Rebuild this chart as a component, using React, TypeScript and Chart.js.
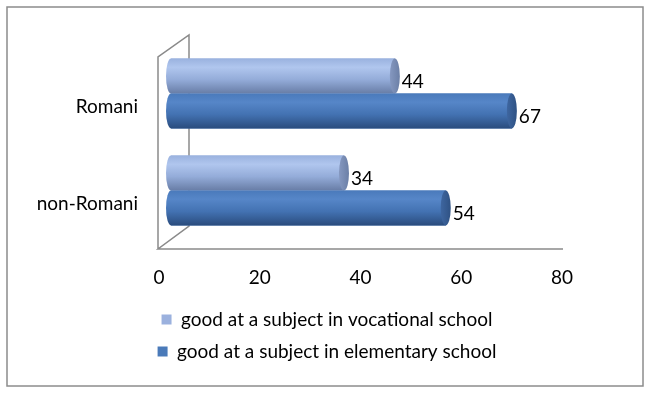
import React, { useEffect, useRef } from "react";
import { Chart, registerables } from "chart.js";

Chart.register(...registerables);

const categories = ["Romani", "non-Romani"];
const vocational = [44, 34];
const elementary = [67, 54];
const seriesLabels = [
  "good at a subject in vocational school",
  "good at a subject in elementary school",
];
const xTicks = [0, 20, 40, 60, 80];

const FONT = "Lato";
const FSIZE = 19;
const legendColors = ["#9bb1de", "#4a7ab9"];

const framePlugin = {
  id: "frame3d",
  beforeDraw(chart: any) {
    const { ctx } = chart;
    ctx.save();
    ctx.fillStyle = "#ffffff";
    ctx.fillRect(0, 0, chart.width, chart.height);
    ctx.strokeStyle = "#8c8c8c";
    ctx.lineWidth = 1.5;
    ctx.strokeRect(7, 7, 636, 379);
    ctx.restore();
  },
  beforeDatasetsDraw(chart: any) {
    const { ctx, chartArea } = chart;
    const x2 = chart.scales.x2;
    const { left, top, bottom } = chartArea;
    const fx = x2.getPixelForValue(0) - 1;
    const fTop = top + 12;
    const fBot = bottom + 10;
    const bx = left + 18;
    const bTop = top - 10;
    const bBot = bottom - 13;
    ctx.save();
    ctx.strokeStyle = "#8a8a8a";
    ctx.lineWidth = 1.5;
    ctx.beginPath();
    ctx.moveTo(fx, fBot);
    ctx.lineTo(fx, fTop);
    ctx.lineTo(bx, bTop);
    ctx.lineTo(bx, bBot);
    ctx.lineTo(fx, fBot);
    ctx.lineTo(x2.getPixelForValue(80) + 1, fBot);
    ctx.stroke();
    ctx.restore();
  },
};

const cylStyles = [
  {
    stops: [
      [0, "#9ab2df"],
      [0.25, "#b0c6ee"],
      [0.6, "#94acd9"],
      [1, "#687da6"],
    ],
    cap: ["#8598c0", "#6b7fa6"],
  },
  {
    stops: [
      [0, "#4a7abb"],
      [0.25, "#5686c8"],
      [0.6, "#4372b2"],
      [1, "#2a4c7d"],
    ],
    cap: ["#3e66a0", "#2f5284"],
  },
];

const cylinderPlugin = {
  id: "cylinders",
  afterDatasetsDraw(chart: any) {
    const { ctx } = chart;
    ctx.save();
    chart.data.datasets.forEach((ds: any, di: number) => {
      const meta = chart.getDatasetMeta(di);
      const st = cylStyles[di];
      meta.data.forEach((bar: any, i: number) => {
        const { x, y, base, height } = bar.getProps(["x", "y", "base", "height"], true);
        const h = height;
        const top = y - h / 2;
        const rx = 5;
        const g = ctx.createLinearGradient(0, top, 0, top + h);
        st.stops.forEach((s: any) => g.addColorStop(s[0], s[1]));
        ctx.fillStyle = g;
        ctx.beginPath();
        ctx.ellipse(base, y, rx, h / 2, 0, Math.PI / 2, (Math.PI * 3) / 2);
        ctx.lineTo(x, top);
        ctx.lineTo(x, top + h);
        ctx.closePath();
        ctx.fill();
        const cg = ctx.createLinearGradient(x - rx, 0, x + rx, 0);
        cg.addColorStop(0, st.cap[0]);
        cg.addColorStop(1, st.cap[1]);
        ctx.fillStyle = cg;
        ctx.beginPath();
        ctx.ellipse(x, y, rx, h / 2, 0, 0, Math.PI * 2);
        ctx.fill();
        ctx.fillStyle = "#000000";
        ctx.font = `${FSIZE}px ${FONT}`;
        ctx.textAlign = "left";
        ctx.textBaseline = "middle";
        ctx.fillText(String(ds.data[i]), x + rx + 2, y + 6);
      });
    });
    ctx.restore();
  },
};

export default function App() {
  const ref = useRef<HTMLCanvasElement | null>(null);
  useEffect(() => {
    if (!ref.current) return;
    const chart = new Chart(ref.current, {
      type: "bar",
      data: {
        labels: categories,
        datasets: [
          {
            label: seriesLabels[0],
            data: vocational,
            backgroundColor: legendColors[0],
            xAxisID: "x",
            yAxisID: "y",
            barPercentage: 1,
            categoryPercentage: 0.72,
          },
          {
            label: seriesLabels[1],
            data: elementary,
            backgroundColor: legendColors[1],
            xAxisID: "x",
            yAxisID: "y",
            barPercentage: 1,
            categoryPercentage: 0.72,
          },
        ],
      },
      options: {
        indexAxis: "y",
        animation: false,
        responsive: false,
        devicePixelRatio: 1,
        layout: { padding: { top: 45, bottom: 25, left: 0, right: 0 } },
        scales: {
          x: { display: false, min: 0, max: 80 },
          x2: {
            axis: "x",
            type: "linear",
            position: "bottom",
            min: 2.382,
            max: 83.176,
            grid: { display: false },
            border: { display: false },
            afterBuildTicks: (s: any) => {
              s.ticks = xTicks.map((v) => ({ value: v }));
            },
            afterFit: (s: any) => {
              s.height = 58;
            },
            ticks: {
              padding: 19,
              color: "#000",
              font: { family: FONT, size: FSIZE },
            },
          },
          y: {
            type: "category",
            position: "left",
            grid: { display: false },
            border: { display: false },
            afterFit: (s: any) => {
              s.width = 171;
            },
            ticks: {
              padding: 25,
              labelOffset: 13,
              color: "#000",
              font: { family: FONT, size: FSIZE },
            },
          },
          yR: {
            axis: "y",
            type: "linear",
            position: "right",
            display: true,
            grid: { display: false },
            border: { display: false },
            ticks: { display: false },
            afterFit: (s: any) => {
              s.width = 76;
            },
          },
        },
        plugins: {
          legend: {
            position: "bottom",
            labels: {
              boxWidth: 10,
              boxHeight: 10,
              padding: 13,
              color: "#000",
              font: { family: FONT, size: FSIZE },
            },
          },
          tooltip: { enabled: false },
        },
      } as any,
      plugins: [framePlugin, cylinderPlugin],
    });
    return () => chart.destroy();
  }, []);
  return (
    <div style={{ position: "absolute", left: 0, top: 0, width: 654, height: 396 }}>
      <canvas ref={ref} width={654} height={396} />
    </div>
  );
}
